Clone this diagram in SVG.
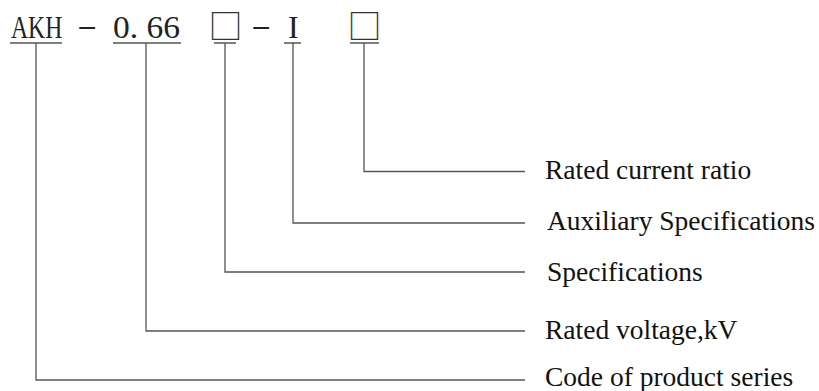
<svg xmlns="http://www.w3.org/2000/svg" width="819" height="391" viewBox="0 0 819 391">
<style>
.ln{stroke:#555;stroke-width:1.3;fill:none}
.code{font-family:"Liberation Serif","Times New Roman",serif;font-size:32px;fill:#222}
.box{font-family:"Noto Sans CJK SC",sans-serif;font-size:34px;fill:#333}
.lbl{font-family:"Liberation Serif","Times New Roman",serif;font-size:27.5px;fill:#111}
</style>
<rect width="819" height="391" fill="#fff"/>
<g id="code">
<text class="code" transform="translate(11 37.5) scale(0.74 1)" x="0" y="0">AKH</text>
<text class="code" transform="translate(77 34) scale(1.9 0.8)" x="0" y="0">-</text>
<text class="code" x="113" y="37.5" textLength="67" lengthAdjust="spacingAndGlyphs">0. 66</text>
<text class="box" x="208.5" y="38.5">□</text>
<text class="code" transform="translate(251 34) scale(1.9 0.8)" x="0" y="0">-</text>
<text class="code" x="288" y="37.5">I</text>
<text class="box" x="347.5" y="38.5">□</text>
</g>
<g id="connectors" class="ln">
<path d="M10 43H62M36 43V380H525"/>
<path d="M113 43H181M146 43V331H525"/>
<path d="M214 43H236M225 43V272H525"/>
<path d="M284 43H301M293 43V223H525"/>
<path d="M350 43H379M364 43V171.5H525"/>
</g>
<g id="n-ratio"><text class="lbl" x="545" y="179">Rated current ratio</text></g>
<g id="n-aux"><text class="lbl" x="547" y="230">Auxiliary Specifications</text></g>
<g id="n-spec"><text class="lbl" x="547" y="281">Specifications</text></g>
<g id="n-volt"><text class="lbl" x="545" y="339">Rated voltage,kV</text></g>
<g id="n-series"><text class="lbl" x="545" y="386">Code of product series</text></g>
</svg>
